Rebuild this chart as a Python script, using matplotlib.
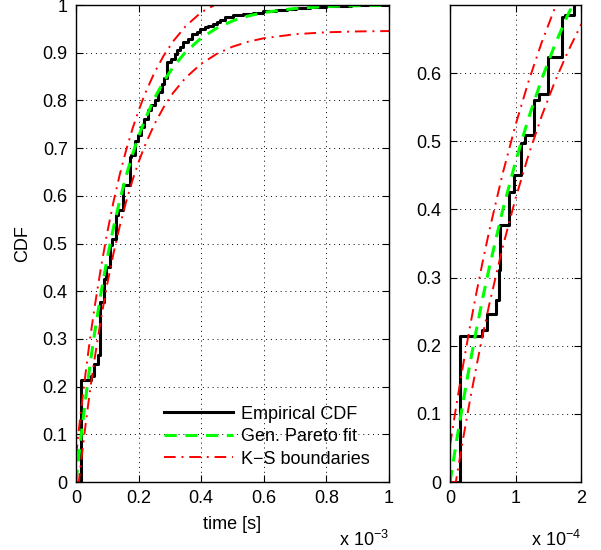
import numpy as np
import matplotlib
matplotlib.use('Agg')
import matplotlib.pyplot as plt

plt.rcParams['font.family'] = ['Liberation Sans', 'DejaVu Sans']
plt.rcParams['mathtext.fontset'] = 'custom'
plt.rcParams['mathtext.rm'] = 'Liberation Sans'
plt.rcParams['mathtext.it'] = 'Liberation Sans:italic'

# time in ms (x 10^-3 s)
ecdf_t = [0, 0.0153, 0.0485, 0.0571, 0.0704, 0.0755, 0.0765, 0.0893, 0.0969, 0.1087,
          0.1148, 0.1286, 0.1352, 0.1495, 0.1709, 0.1760, 0.1888, 0.1990, 0.2060, 0.2180,
          0.2310, 0.2400, 0.2519, 0.2620, 0.2735, 0.2800, 0.2900, 0.3050, 0.3160, 0.3230,
          0.3320, 0.3420, 0.3580, 0.3690, 0.3850, 0.3960, 0.4120, 0.4220, 0.4380, 0.4490,
          0.4600, 0.4760, 0.5020, 0.5340, 0.5660, 0.5980, 0.6400, 0.6730, 0.7040, 0.7470,
          0.8000, 0.8800, 1.0]
ecdf_p = [0, 0.214, 0.223, 0.247, 0.267, 0.311, 0.377, 0.426, 0.451, 0.497,
          0.509, 0.560, 0.570, 0.623, 0.682, 0.686, 0.715, 0.728, 0.744, 0.760,
          0.779, 0.790, 0.800, 0.818, 0.835, 0.846, 0.880, 0.887, 0.898, 0.905,
          0.912, 0.922, 0.929, 0.940, 0.943, 0.950, 0.954, 0.957, 0.961, 0.964,
          0.969, 0.975, 0.978, 0.982, 0.984, 0.987, 0.989, 0.992, 0.994, 0.996,
          0.998, 1.000, 1.000]

fit_t = [0, 0.01, 0.02, 0.03, 0.04, 0.05, 0.06, 0.08, 0.10, 0.12, 0.14, 0.16, 0.18, 0.20,
         0.22, 0.25, 0.28, 0.31, 0.35, 0.40, 0.45, 0.50, 0.55, 0.60, 0.70, 0.80, 0.90, 1.0]
fit_p = [0, 0.0607, 0.1178, 0.1717, 0.2224, 0.2702, 0.3151, 0.3973, 0.4700, 0.5344,
         0.5913, 0.6415, 0.6858, 0.7249, 0.7594, 0.8035, 0.8398, 0.8697, 0.9014, 0.9308,
         0.9517, 0.9666, 0.9770, 0.9843, 0.9928, 0.9968, 0.9986, 0.9994]

ks_up_t = [0, 0.01, 0.02, 0.03, 0.04, 0.05, 0.06, 0.08, 0.10, 0.12, 0.14, 0.16, 0.18, 0.20,
           0.22, 0.25, 0.28, 0.31, 0.35, 0.40, 0.443, 0.50, 0.60, 0.80, 1.0]
ks_up_p = [0.054, 0.1147, 0.1718, 0.2257, 0.2764, 0.3242, 0.3691, 0.4513, 0.5240, 0.5884,
           0.6453, 0.6955, 0.7398, 0.7789, 0.8134, 0.8575, 0.8938, 0.9237, 0.9554, 0.9848,
           1.0, 1.0, 1.0, 1.0, 1.0]

ks_lo_t = [0, 0.0089, 0.01, 0.02, 0.03, 0.04, 0.05, 0.06, 0.08, 0.10, 0.12, 0.14, 0.16, 0.18,
           0.20, 0.22, 0.25, 0.28, 0.31, 0.35, 0.40, 0.45, 0.50, 0.55, 0.60, 0.70, 0.80, 0.90, 1.0]
ks_lo_p = [0, 0, 0.0067, 0.0638, 0.1177, 0.1684, 0.2162, 0.2611, 0.3433, 0.4160, 0.4804,
           0.5373, 0.5875, 0.6318, 0.6709, 0.7054, 0.7495, 0.7858, 0.8157, 0.8474, 0.8768,
           0.8977, 0.9126, 0.9230, 0.9303, 0.9388, 0.9428, 0.9446, 0.9454]

fs = 13
green = (0, 1, 0)


def draw(ax, scale):
    ax.step(np.array(ecdf_t) * scale, ecdf_p, where='post', color='k', lw=2.2,
            label='Empirical CDF')
    ax.plot(np.array(fit_t) * scale, fit_p, color=green, lw=2.2, dashes=(4, 2.8),
            label='Gen. Pareto fit')
    ax.plot(np.array(ks_up_t) * scale, ks_up_p, color='r', lw=1.4, dashes=(6, 3, 1, 3),
            label='K\u2212S boundaries')
    ax.plot(np.array(ks_lo_t) * scale, ks_lo_p, color='r', lw=1.4, dashes=(6, 3, 1, 3))
    ax.grid(True, color='k', linestyle=(0, (1, 4)), lw=0.7)
    ax.tick_params(direction='in', top=True, right=True, labelsize=fs, length=5, width=0.8,
                   pad=6)
    for s in ax.spines.values():
        s.set_linewidth(1.0)


fig = plt.figure(figsize=(6.01, 5.5), dpi=100)
ax1 = fig.add_axes([0.1265, 0.1236, 0.5208, 0.8673])
ax2 = fig.add_axes([0.7488, 0.1236, 0.2180, 0.8673])

draw(ax1, 1.0)
ax1.set_xlim(0, 1)
ax1.set_ylim(0, 1)
ax1.set_xticks([0, 0.2, 0.4, 0.6, 0.8, 1])
ax1.set_xticklabels(['0', '0.2', '0.4', '0.6', '0.8', '1'])
ax1.set_yticks(np.arange(0, 1.01, 0.1))
ax1.set_yticklabels(['0', '0.1', '0.2', '0.3', '0.4', '0.5', '0.6', '0.7', '0.8', '0.9', '1'])
ax1.set_xlabel('time [s]', fontsize=fs, labelpad=6)
ax1.set_ylabel('CDF', fontsize=fs, labelpad=8)
ax1.text(1.0, -0.135, 'x 10$^{-3}$', transform=ax1.transAxes, ha='right', va='baseline',
         fontsize=fs)
leg = ax1.legend(loc='lower right', bbox_to_anchor=(0.984, 0.0), frameon=False, fontsize=fs,
                 handlelength=3.8, handletextpad=0.45, labelspacing=0.3, borderaxespad=0.4)

draw(ax2, 10.0)
ax2.set_xlim(0, 2)
ax2.set_ylim(0, 0.7)
ax2.set_xticks([0, 1, 2])
ax2.set_yticks(np.arange(0, 0.61, 0.1))
ax2.set_yticklabels(['0', '0.1', '0.2', '0.3', '0.4', '0.5', '0.6'])
ax2.text(1.0, -0.135, 'x 10$^{-4}$', transform=ax2.transAxes, ha='right', va='baseline',
         fontsize=fs)

fig.savefig('out.png', dpi=100)
